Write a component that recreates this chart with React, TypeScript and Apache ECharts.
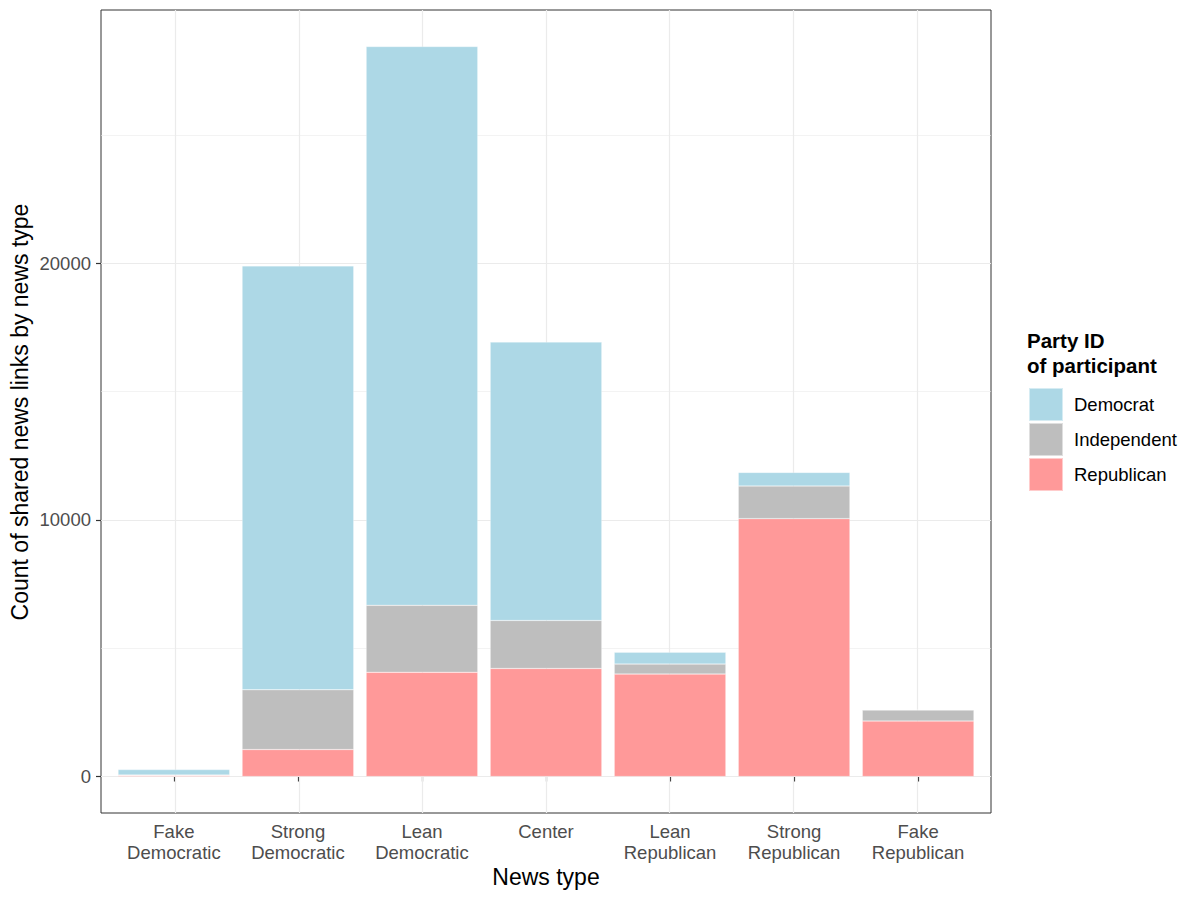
import React, { useEffect, useRef } from "react";
import * as echarts from "echarts";

const categories = [
  "Fake\nDemocratic",
  "Strong\nDemocratic",
  "Lean\nDemocratic",
  "Center",
  "Lean\nRepublican",
  "Strong\nRepublican",
  "Fake\nRepublican",
];
const republican = [40, 1050, 4060, 4210, 3990, 10050, 2160];
const independent = [20, 2330, 2610, 1870, 390, 1270, 430];
const democrat = [210, 16520, 21780, 10850, 460, 530, 20];
const majorTicks = [0, 10000, 20000];
const minorTicks = [5000, 15000, 25000];
const legendNames = ["Democrat", "Independent", "Republican"];

const FONT = "Liberation Sans, Arial, Helvetica, sans-serif";

export default function App() {
  const ref = useRef<HTMLDivElement>(null);
  useEffect(() => {
    if (!ref.current) return;
    const chart = echarts.init(ref.current, undefined, { renderer: "svg" });
    const totals = categories.map((_, i) => republican[i] + independent[i] + democrat[i]);
    const maxT = Math.max(...totals);
    const pad = maxT * 0.05;
    // panel layout
    const pLeft = 101;
    const pRight = 209;
    const pTop = 10;
    const pBottom = 87;
    const panelW = 1200 - pLeft - pRight;
    const n = categories.length;
    const unit = panelW / (n + 1.2); // ggplot discrete expansion 0.6 each side
    const inset = unit * 0.1;

    const gridLineStyleMajor = { color: "#EBEBEB", width: 1.2, type: "solid" };
    const gridLineStyleMinor = { color: "#EBEBEB", width: 0.6, type: "solid" };
    const barBase = {
      type: "bar",
      stack: "total",
      barWidth: "90%",
      xAxisIndex: 1,
      yAxisIndex: 1,
      z: 3,
      itemStyle: { borderColor: "rgba(255,255,255,0.5)", borderWidth: 0.5 },
    };
    chart.setOption({
      animation: false,
      backgroundColor: "#FFFFFF",
      textStyle: { fontFamily: FONT },
      grid: [
        {
          left: pLeft,
          right: pRight,
          top: pTop,
          bottom: pBottom,
          show: true,
          borderColor: "#333333",
          borderWidth: 1,
          backgroundColor: "#FFFFFF",
        },
        {
          left: pLeft + inset,
          right: pRight + inset,
          top: pTop,
          bottom: pBottom,
          show: false,
        },
      ],
      legend: {
        data: legendNames,
        orient: "vertical",
        left: 1023,
        top: 382,
        itemWidth: 34,
        itemHeight: 33,
        itemGap: 0,
        icon: "rect",
        selectedMode: false,
        textStyle: { fontSize: 18.5, color: "#000000", fontFamily: FONT, padding: [0, 0, 0, 6] },
      },
      xAxis: [
        {
          type: "value",
          gridIndex: 0,
          min: 0.4,
          max: n + 0.6,
          show: false,
          splitLine: { show: false },
        },
        {
          type: "category",
          gridIndex: 1,
          data: categories,
          boundaryGap: true,
          axisLine: { show: false },
          axisTick: { show: true, alignWithLabel: true, length: 5, lineStyle: { color: "#333333", width: 1.2 } },
          axisLabel: { fontSize: 18.5, color: "#4D4D4D", lineHeight: 21, margin: 8, fontFamily: FONT },
          splitLine: { show: false },
        },
      ],
      yAxis: [
        {
          type: "value",
          gridIndex: 0,
          min: -pad,
          max: maxT + pad,
          axisLine: { show: false },
          splitLine: { show: false },
          axisTick: {
            show: true,
            length: 5,
            customValues: majorTicks,
            lineStyle: { color: "#333333", width: 1.2 },
          },
          axisLabel: {
            customValues: majorTicks,
            fontSize: 18.5,
            color: "#4D4D4D",
            margin: 10,
            fontFamily: FONT,
            formatter: (v: number) => String(Math.round(v)),
          },
        },
        {
          type: "value",
          gridIndex: 1,
          min: -pad,
          max: maxT + pad,
          show: false,
          splitLine: { show: false },
        },
      ],
      series: [
        {
          name: "grid",
          type: "line",
          xAxisIndex: 0,
          yAxisIndex: 0,
          data: [],
          z: 1,
          silent: true,
          markLine: {
            silent: true,
            z: 1,
            symbol: ["none", "none"],
            label: { show: false },
            animation: false,
            data: [
              ...minorTicks.map((v) => ({ yAxis: v, lineStyle: gridLineStyleMinor })),
              ...majorTicks.map((v) => ({ yAxis: v, lineStyle: gridLineStyleMajor })),
              ...categories.map((_, i) => ({ xAxis: i + 1, lineStyle: gridLineStyleMajor })),
            ],
          },
        },
        { ...barBase, name: "Republican", data: republican, itemStyle: { ...barBase.itemStyle, color: "#FF9999" } },
        { ...barBase, name: "Independent", data: independent, itemStyle: { ...barBase.itemStyle, color: "#BEBEBE" } },
        { ...barBase, name: "Democrat", data: democrat, itemStyle: { ...barBase.itemStyle, color: "#ADD8E6" } },
      ],
      graphic: [
        {
          type: "text",
          left: 1027,
          top: 328,
          style: {
            text: "Party ID\nof participant",
            fontSize: 20.5,
            fontWeight: "bold",
            lineHeight: 25,
            fill: "#000000",
            fontFamily: FONT,
          },
        },
        {
          type: "text",
          x: 546,
          y: 877,
          style: {
            text: "News type",
            fontSize: 23,
            fill: "#000000",
            align: "center",
            verticalAlign: "middle",
            fontFamily: FONT,
          },
        },
        {
          type: "text",
          x: 20,
          y: 412,
          rotation: Math.PI / 2,
          style: {
            text: "Count of shared news links by news type",
            fontSize: 23,
            fill: "#000000",
            align: "center",
            verticalAlign: "middle",
            fontFamily: FONT,
          },
        },
      ],
    });
    return () => chart.dispose();
  }, []);
  return <div ref={ref} style={{ width: 1200, height: 900, margin: -8 }} />;
}
